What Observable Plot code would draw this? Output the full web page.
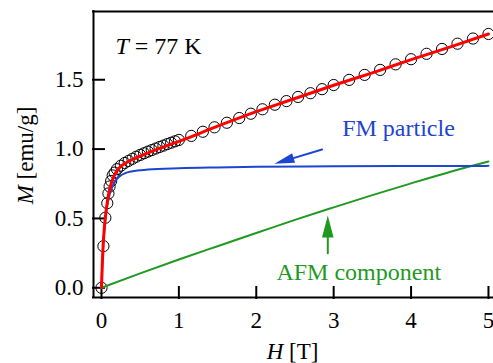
<!DOCTYPE html>
<html><head><meta charset="utf-8">
<script src="https://cdn.jsdelivr.net/npm/d3@7"></script>
<script src="https://cdn.jsdelivr.net/npm/@observablehq/plot@0.6"></script>
<style>
html,body{margin:0;padding:0;background:#fff}
#chart{width:493px;height:363px;overflow:hidden}
#chart svg, #chart svg text, #chart svg tspan{font-family:"Liberation Serif","Times New Roman",serif !important}
</style>
</head><body><div id="chart"></div>
<script>
// measured magnetization M (emu/g) vs field H (T)
const circleH = [0, 0.025, 0.05, 0.075, 0.09, 0.105, 0.125, 0.145,
  0.17, 0.2, 0.25, 0.3, 0.35, 0.4, 0.45, 0.5, 0.55, 0.6, 0.65, 0.7, 0.75, 0.8, 0.85, 0.9, 0.95, 1.0,
  1.16, 1.31, 1.46, 1.62, 1.78, 1.93, 2.08, 2.24, 2.39, 2.54, 2.70, 2.85, 3.0,
  3.2, 3.4, 3.6, 3.8, 4.0, 4.2, 4.4, 4.6, 4.8, 5.0];
const circleM = [0, 0.30, 0.505, 0.61, 0.68, 0.73, 0.77, 0.81,
  0.83, 0.855, 0.88, 0.90, 0.915, 0.93, 0.945, 0.958, 0.97, 0.982, 0.993, 1.004, 1.015, 1.025, 1.036, 1.046, 1.056, 1.066,
  1.095, 1.125, 1.157, 1.19, 1.224, 1.255, 1.287, 1.32, 1.346, 1.376, 1.403, 1.432, 1.462,
  1.499, 1.535, 1.571, 1.611, 1.648, 1.687, 1.722, 1.76, 1.797, 1.83];

// total fit (red)
const fitH = [0, 0.01, 0.02, 0.04, 0.06, 0.08, 0.1, 0.125, 0.15, 0.2, 0.25, 0.3, 0.4, 0.5, 0.7, 1.0, 1.5, 2.0, 2.5, 3.0, 3.5, 4.0, 4.5, 5.0];
const fitM = [0, 0.16, 0.29, 0.45, 0.555, 0.635, 0.695, 0.75, 0.79, 0.845, 0.875, 0.895, 0.925, 0.95, 0.995, 1.055, 1.165, 1.27, 1.365, 1.46, 1.55, 1.645, 1.735, 1.83];

// FM particle component (blue)
const fmH = [0, 0.01, 0.02, 0.04, 0.06, 0.08, 0.1, 0.125, 0.15, 0.2, 0.25, 0.3, 0.4, 0.6, 1.0, 1.5, 2.0, 3.0, 4.0, 5.0];
const fmM = [0, 0.16, 0.28, 0.44, 0.54, 0.61, 0.66, 0.705, 0.74, 0.785, 0.81, 0.825, 0.84, 0.852, 0.862, 0.868, 0.872, 0.876, 0.878, 0.879];

// AFM component (green)
const afmH = [0, 0.5, 1.0, 1.5, 2.0, 2.5, 3.0, 3.5, 4.0, 4.5, 5.0];
const afmM = [0, 0.104, 0.204, 0.30, 0.395, 0.49, 0.58, 0.668, 0.753, 0.835, 0.91];

const xTicks = [0, 1, 2, 3, 4, 5];
const yTicks = [0, 0.5, 1.0, 1.5];
const xDomain = [-0.103, 5.065];
const yDomain = [-0.070, 1.992];

const noteText = ["T = 77 K", "FM particle", "AFM component"];
const noteH = [0.18, 3.11, 2.26];
const noteM = [1.682, 1.094, 0.058];
const noteColor = ["#000000", "#1d45d2", "#1f9a1f"];

// arrows: start -> tip
const arrowH1 = [2.85, 2.924];
const arrowM1 = [0.997, 0.249];
const arrowH2 = [2.235, 2.924];
const arrowM2 = [0.894, 0.521];
const arrowColor = ["#1d45d2", "#1f9a1f"];
const arrowAngle = [163.3, -90];

const zip = (a, b) => a.map((v, i) => ({H: v, M: b[i]}));
const circles = zip(circleH, circleM);
const fit = zip(fitH, fitM);
const fm = zip(fmH, fmM);
const afm = zip(afmH, afmM);
const notes = noteText.map((t, i) => ({t, H: noteH[i], M: noteM[i], c: noteColor[i]}));
const arrows = arrowH1.map((h, i) => ({H1: h, M1: arrowM1[i], H2: arrowH2[i], M2: arrowM2[i], c: arrowColor[i], a: arrowAngle[i]}));

function headSymbol(angleDeg, len, half) {
  const a = angleDeg * Math.PI / 180, ux = Math.cos(a), uy = Math.sin(a);
  return {draw(ctx) {
    ctx.moveTo(0, 0);
    ctx.lineTo(-len * ux - half * uy, -len * uy + half * ux);
    ctx.lineTo(-len * ux + half * uy, -len * uy - half * ux);
    ctx.closePath();
  }};
}

const fontSize = 23;
const serif = "Liberation Serif";
const plot = Plot.plot({
  width: 493, height: 363,
  marginLeft: 93, marginRight: 0, marginTop: 11, marginBottom: 66,
  style: {fontFamily: serif, fontSize: fontSize + "px", background: "#fff", color: "#000"},
  x: {domain: xDomain},
  y: {domain: yDomain},
  marks: [
    Plot.axisX({ticks: xTicks, tickSize: 0, tickPadding: 14, label: null, tickFormat: d => String(d), fontSize, fontFamily: serif}),
    Plot.axisY({ticks: yTicks, tickSize: 0, tickPadding: 10, label: null, tickFormat: d => d.toFixed(1), fontSize, fontFamily: serif}),
    Plot.tickX(xTicks, {x: d => d, insetTop: 275, insetBottom: -2, stroke: "#000", strokeWidth: 2}),
    Plot.tickY(yTicks, {y: d => d, insetRight: 388, insetLeft: -1, stroke: "#000", strokeWidth: 2}),
    Plot.dot(circles, {x: "H", y: "M", r: 5.6, stroke: "#000", strokeWidth: 1, fill: "none"}),
    Plot.line(afm, {x: "H", y: "M", stroke: "#1f9a1f", strokeWidth: 2, curve: "monotone-x"}),
    Plot.line(fm, {x: "H", y: "M", stroke: "#1d45d2", strokeWidth: 2, curve: "monotone-x"}),
    Plot.line(fit, {x: "H", y: "M", stroke: "#ff0000", strokeWidth: 3, curve: "monotone-x"}),
    Plot.arrow(arrows, {x1: "H1", y1: "M1", x2: "H2", y2: "M2", stroke: "c", strokeWidth: 2, headLength: 0, insetEnd: 12}),
    Plot.dot([arrows[0]], {x: "H2", y: "M2", symbol: headSymbol(arrows[0].a, 20, 5), fill: "c", stroke: "none", r: 5}),
    Plot.dot([arrows[1]], {x: "H2", y: "M2", symbol: headSymbol(arrows[1].a, 22, 5.8), fill: "c", stroke: "none", r: 5}),
    Plot.text(notes, {x: "H", y: "M", text: "t", fill: "c", textAnchor: "start", lineAnchor: "bottom", fontSize: 24, fontFamily: serif}),
    Plot.text(["H [T]"], {text: d => d, frameAnchor: "bottom", dy: 61, dx: -1, lineAnchor: "bottom", textAnchor: "middle", fontSize, fontFamily: serif}),
    Plot.text(["M [emu/g]"], {text: d => d, frameAnchor: "left", rotate: -90, dx: -60.5, dy: 1, lineAnchor: "bottom", textAnchor: "middle", fontSize, fontFamily: serif}),
    Plot.ruleY([yDomain[1]], {stroke: "#000", strokeWidth: 2, strokeLinecap: "square"}),
    Plot.ruleY([yDomain[0]], {stroke: "#000", strokeWidth: 2, strokeLinecap: "square"}),
    Plot.ruleX([xDomain[0]], {stroke: "#000", strokeWidth: 2, strokeLinecap: "square"})
  ]
});

// italicize the physical-quantity symbols
const italicFirst = new Set(["T = 77 K", "H [T]", "M [emu/g]"]);
d3.select(plot).selectAll("text").each(function() {
  const t = this.textContent;
  if (italicFirst.has(t)) {
    const el = d3.select(this);
    el.text(null);
    el.append("tspan").attr("font-style", "italic").text(t[0]);
    el.append("tspan").text(t.slice(1));
  }
});
document.getElementById("chart").appendChild(plot);
</script>
</body></html>
